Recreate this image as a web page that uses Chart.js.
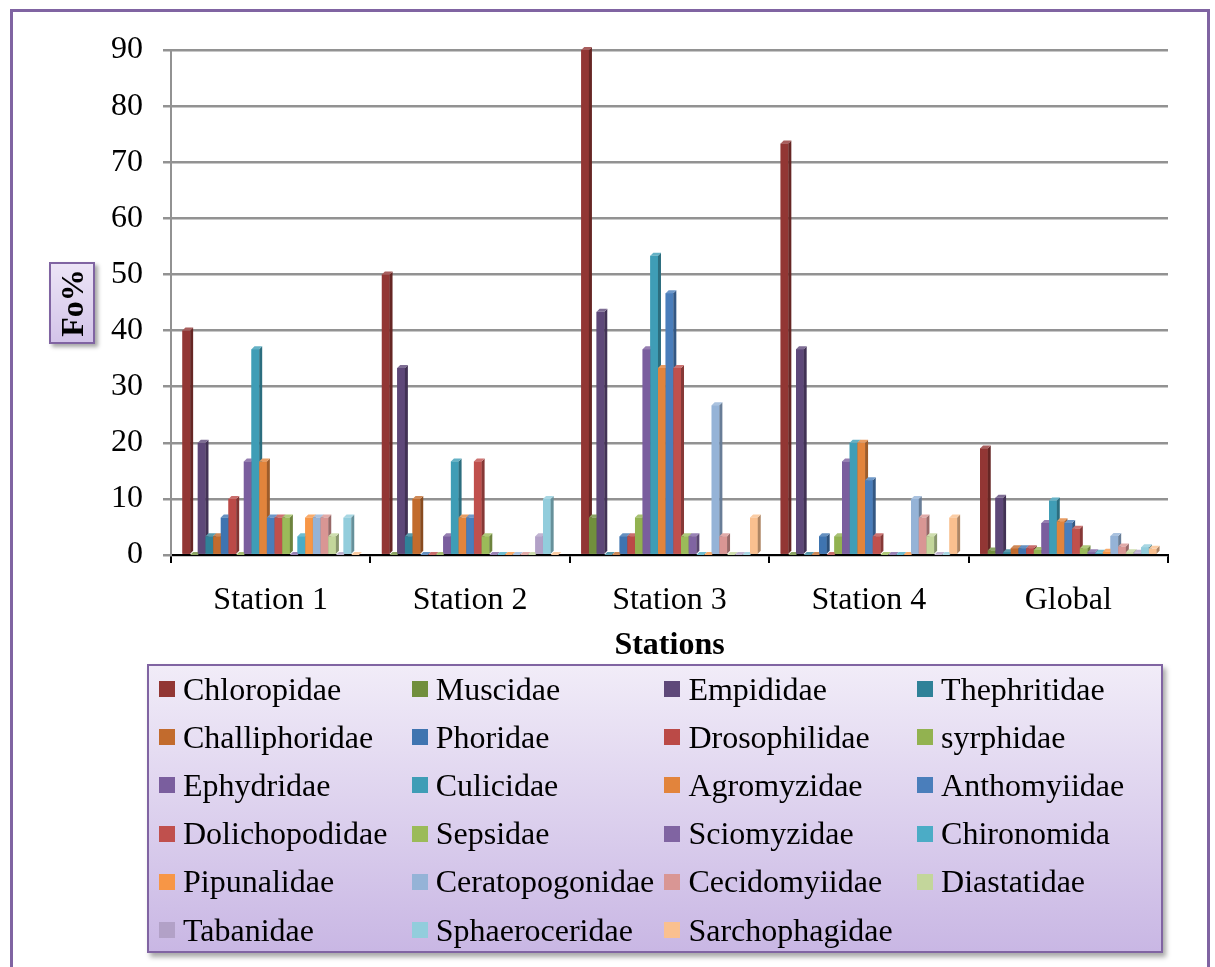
<!DOCTYPE html>
<html>
<head>
<meta charset="utf-8">
<script src="https://cdn.jsdelivr.net/npm/chart.js@4.4.1/dist/chart.umd.min.js"></script>
<style>
  html, body { margin: 0; padding: 0; background: #fff; }
  body { width: 1215px; height: 967px; position: relative; overflow: hidden;
         font-family: "Liberation Serif", "Times New Roman", serif; color: #000; }
  #frame { position: absolute; left: 10px; top: 9px; width: 1200px; height: 1000px;
           border: 3px solid #8064A2; box-sizing: border-box; }
  #wrap { position: absolute; left: 0; top: 0; width: 1215px; height: 967px; }
  #ytitle { position: absolute; left: 49px; top: 262px; width: 46px; height: 82px;
            border: 2px solid #8064A2; box-sizing: border-box;
            background: linear-gradient(#ece4f6, #d3c4e9);
            box-shadow: 3px 3px 4px rgba(0,0,0,0.35); }
  #ytitle span { position: absolute; left: 50%; top: 50%;
                 transform: translate(-50%, -50%) rotate(-90deg);
                 font-weight: bold; font-size: 32px; white-space: nowrap; }
  #legend { position: absolute; left: 147px; top: 664px; width: 1016px; height: 289px;
            border: 2px solid #8064A2; box-sizing: border-box;
            background: linear-gradient(#f1ecf8, #c9b7e4);
            box-shadow: 3px 4px 5px rgba(0,0,0,0.35); }
  .item { position: absolute; height: 48px; display: flex; align-items: center;
          font-size: 32px; white-space: nowrap; }
  .item i { width: 16px; height: 16px; margin-right: 8px; display: inline-block; flex: none; }
</style>
</head>
<body>
<div id="frame"></div>
<div id="wrap"><canvas id="chart" width="1215" height="967"></canvas></div>
<div id="ytitle"><span>Fo%</span></div>
<div id="legend"></div>
<script>
// Sampling stations
const stations = ['Station 1', 'Station 2', 'Station 3', 'Station 4', 'Global'];

// Families (series order)
const families = [
  'Chloropidae', 'Muscidae', 'Empididae', 'Thephritidae',
  'Challiphoridae', 'Phoridae', 'Drosophilidae', 'syrphidae',
  'Ephydridae', 'Culicidae', 'Agromyzidae', 'Anthomyiidae',
  'Dolichopodidae', 'Sepsidae', 'Sciomyzidae', 'Chironomida',
  'Pipunalidae', 'Ceratopogonidae', 'Cecidomyiidae', 'Diastatidae',
  'Tabanidae', 'Sphaeroceridae', 'Sarchophagidae'
];

// Frequency of occurrence (Fo%) per family, one value per station
const chloropidae     = [40, 50, 90, 73.33, 19];
const muscidae        = [0, 0, 6.67, 0, 0.8];
const empididae       = [20, 33.33, 43.33, 36.67, 10.2];
const thephritidae    = [3.33, 3.33, 0, 0, 0.5];
const challiphoridae  = [3.33, 10, 0, 0, 1.2];
const phoridae        = [6.67, 0, 3.33, 3.33, 1.2];
const drosophilidae   = [10, 0, 3.33, 0, 1.2];
const syrphidae       = [0, 0, 6.67, 3.33, 0.9];
const ephydridae      = [16.67, 3.33, 36.67, 16.67, 5.7];
const culicidae       = [36.67, 16.67, 53.33, 20, 9.7];
const agromyzidae     = [16.67, 6.67, 33.33, 20, 6];
const anthomyiidae    = [6.67, 6.67, 46.67, 13.33, 5.7];
const dolichopodidae  = [6.67, 16.67, 33.33, 3.33, 4.7];
const sepsidae        = [6.67, 3.33, 3.33, 0, 1.2];
const sciomyzidae     = [0, 0, 3.33, 0, 0.5];
const chironomida     = [3.33, 0, 0, 0, 0.4];
const pipunalidae     = [6.67, 0, 0, 0, 0.6];
const ceratopogonidae = [6.67, 0, 26.67, 10, 3.4];
const cecidomyiidae   = [6.67, 0, 3.33, 6.67, 1.5];
const diastatidae     = [3.33, 0, 0, 3.33, 0.5];
const tabanidae       = [0, 3.33, 0, 0, 0.4];
const sphaeroceridae  = [6.67, 10, 0, 0, 1.4];
const sarchophagidae  = [0, 0, 6.67, 6.67, 1.1];

const seriesValues = [
  chloropidae, muscidae, empididae, thephritidae,
  challiphoridae, phoridae, drosophilidae, syrphidae,
  ephydridae, culicidae, agromyzidae, anthomyiidae,
  dolichopodidae, sepsidae, sciomyzidae, chironomida,
  pipunalidae, ceratopogonidae, cecidomyiidae, diastatidae,
  tabanidae, sphaeroceridae, sarchophagidae
];

// Y axis ticks
const yTicks = [0, 10, 20, 30, 40, 50, 60, 70, 80, 90];

const seriesColors = [
  '#923634', '#718F3D', '#5E4879', '#2F8198',
  '#C26B2D', '#3F74B0', '#BB4A47', '#92B250',
  '#7A5E9E', '#3F9DB6', '#E2843C', '#4A7EBB',
  '#C0504D', '#9BBB59', '#8064A2', '#4BACC6',
  '#F79646', '#95B3D7', '#D99694', '#C3D69B',
  '#B2A1C7', '#92CDDC', '#FAC08F'
];

function shade(hex, amt) {
  const n = parseInt(hex.slice(1), 16);
  const r = (n >> 16) & 255, g = (n >> 8) & 255, b = n & 255;
  const f = c => amt < 0 ? Math.round(c * (1 + amt)) : Math.round(c + (255 - c) * amt);
  return `rgb(${f(r)},${f(g)},${f(b)})`;
}

// Repaints each column as a small 3-D block (front, right side, top),
// in series order so that right-hand neighbours sit in front.
const columns3d = {
  id: 'columns3d',
  afterDatasetsDraw(chart) {
    const ctx = chart.ctx;
    const d = 3;
    ctx.save();
    chart.data.datasets.forEach((ds, i) => {
      const meta = chart.getDatasetMeta(i);
      meta.data.forEach(bar => {
        const { x, y, base, width } = bar.getProps(['x', 'y', 'base', 'width'], true);
        const l = x - width / 2, r = x + width / 2;
        const top = Math.min(y, base);
        ctx.fillStyle = ds.backgroundColor;
        ctx.fillRect(l, top, width, base - top);
        ctx.fillStyle = shade(ds.backgroundColor, -0.3);
        ctx.beginPath();
        ctx.moveTo(r, top); ctx.lineTo(r + d, top - d);
        ctx.lineTo(r + d, base - d); ctx.lineTo(r, base);
        ctx.closePath(); ctx.fill();
        ctx.fillStyle = shade(ds.backgroundColor, 0.2);
        ctx.beginPath();
        ctx.moveTo(l, top); ctx.lineTo(l + d, top - d);
        ctx.lineTo(r + d, top - d); ctx.lineTo(r, top);
        ctx.closePath(); ctx.fill();
      });
    });
    ctx.restore();
  }
};

const serif = '"Liberation Serif", "Times New Roman", serif';

const chart = new Chart(document.getElementById('chart'), {
  type: 'bar',
  data: {
    labels: stations,
    datasets: families.map((name, i) => ({
      label: name,
      data: seriesValues[i],
      backgroundColor: seriesColors[i],
      borderWidth: 0
    }))
  },
  options: {
    responsive: false,
    animation: false,
    events: [],
    datasets: { bar: { categoryPercentage: 0.885, barPercentage: 1.0 } },
    layout: { padding: { left: 0, top: 50, right: 47, bottom: 302 } },
    plugins: { legend: { display: false }, tooltip: { enabled: false } },
    scales: {
      x: {
        afterFit: s => { s.height = 110; },
        grid: { display: true, drawOnChartArea: false, color: '#000', lineWidth: 2, tickLength: 8 },
        border: { display: true, color: '#000', width: 2 },
        ticks: { color: '#000', padding: 18, font: { family: serif, size: 32 } },
        title: { display: true, text: 'Stations', color: '#000',
                 padding: { top: 0, bottom: 0 },
                 font: { family: serif, size: 32, weight: 'bold' } }
      },
      y: {
        min: 0, max: 90,
        afterFit: s => { s.width = 171; },
        afterBuildTicks: s => { s.ticks = yTicks.map(v => ({ value: v })); },
        grid: { color: '#929292', lineWidth: 2.5, tickLength: 8 },
        border: { display: true, color: '#929292', width: 2 },
        ticks: { color: '#000', padding: 20, font: { family: serif, size: 32 } }
      }
    }
  },
  plugins: [columns3d]
});

// Four-column legend built from the chart's datasets
const legend = document.getElementById('legend');
chart.data.datasets.forEach((ds, i) => {
  const col = i % 4, row = Math.floor(i / 4);
  const el = document.createElement('div');
  el.className = 'item';
  el.style.left = (10 + col * 252.7) + 'px';
  el.style.top = (-1 + row * 48.2) + 'px';
  const sw = document.createElement('i');
  sw.style.background = ds.backgroundColor;
  el.appendChild(sw);
  el.appendChild(document.createTextNode(ds.label));
  legend.appendChild(el);
});
</script>
</body>
</html>
